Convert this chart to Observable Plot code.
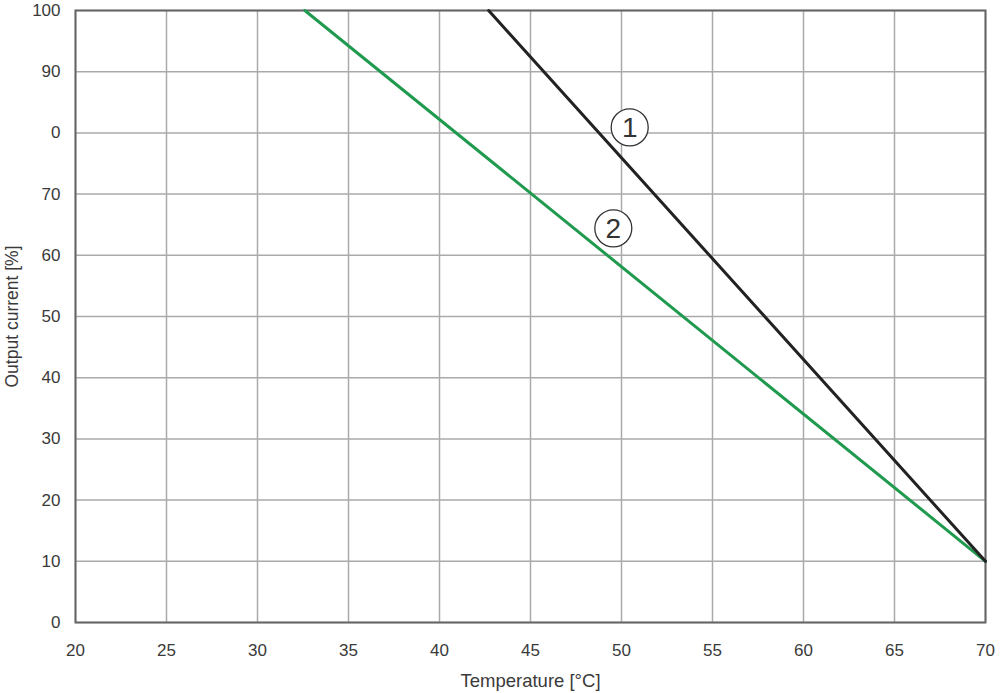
<!DOCTYPE html>
<html><head><meta charset="utf-8">
<script src="https://cdn.jsdelivr.net/npm/d3@7"></script>
<script src="https://cdn.jsdelivr.net/npm/@observablehq/plot@0.6"></script>
<style>body{margin:0;background:#fff;font-family:"Liberation Sans",Arial,sans-serif;}</style>
</head><body><div id="chart"></div>
<script>
const xTicks = [20,25,30,35,40,45,50,55,60,65,70];
const yTicks = [0,10,20,30,40,50,60,70,80,90,100];
const yTickLabels = ["0","10","20","30","40","50","60","70","0","90","100"];
const xAxisTitle = "Temperature [°C]";
const yAxisTitle = "Output current [%]";
const curve1Temp = [42.7, 70];
const curve1Current = [100, 10];
const curve2Temp = [32.6, 70];
const curve2Current = [100, 10];
const labelNames = ["1","2"];
const labelTemp = [50.45, 49.55];
const labelCurrent = [80.9, 64.4];

const c1 = curve1Temp.map((t,i)=>({t, v: curve1Current[i]}));
const c2 = curve2Temp.map((t,i)=>({t, v: curve2Current[i]}));
const labels = labelNames.map((n,i)=>({n, t: labelTemp[i], v: labelCurrent[i]}));

const chart = Plot.plot({
  width: 1000, height: 693,
  marginLeft: 75, marginRight: 15, marginTop: 10, marginBottom: 71,
  style: {fontFamily: '"Liberation Sans", Arial, sans-serif', fontSize: "17px", color: "#3a3a3a", background: "#fff"},
  x: {domain: [20,70]},
  y: {domain: [0,100]},
  marks: [
    Plot.gridX(xTicks, {stroke: "#aaa", strokeOpacity: 1, strokeWidth: 1.5}),
    Plot.gridY(yTicks, {stroke: "#aaa", strokeOpacity: 1, strokeWidth: 1.5}),
    Plot.frame({stroke: "#666", strokeWidth: 2}),
    Plot.axisX({ticks: xTicks, tickSize: 0, tickPadding: 21, fontSize: 17, label: null}),
    Plot.axisY({ticks: yTicks, tickSize: 0, tickPadding: 15, fontSize: 17, tickFormat: d => yTickLabels[yTicks.indexOf(d)], label: null}),
    Plot.text([xAxisTitle], {frameAnchor: "bottom", text: d => d, dy: 64, fontSize: 18.5, fill: "#3a3a3a"}),
    Plot.text([yAxisTitle], {frameAnchor: "left", textAnchor: "middle", text: d => d, dx: -63, rotate: -90, fontSize: 17.5, fill: "#3a3a3a"}),
    Plot.line(c2, {x: "t", y: "v", stroke: "#1f9a4e", strokeWidth: 3}),
    Plot.line(c1, {x: "t", y: "v", stroke: "#222", strokeWidth: 3}),
    Plot.dot(labels, {x: "t", y: "v", r: 18.5, fill: "#fff", stroke: "#333", strokeWidth: 1.3}),
    Plot.text(labels, {x: "t", y: "v", text: "n", fontSize: 28, fill: "#333", dy: 1})
  ]
});
document.getElementById("chart").appendChild(chart);
</script></body></html>
